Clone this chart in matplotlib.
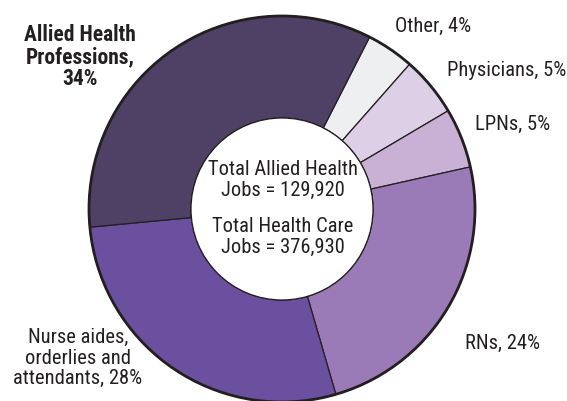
import matplotlib
matplotlib.use("Agg")
from matplotlib import pyplot as plt
from matplotlib.patches import Circle

# Data (clockwise from the top)
categories = ["Other", "Physicians", "LPNs", "RNs",
              "Nurse aides,\norderlies and\nattendants", "Allied Health\nProfessions"]
shares = [4, 5, 5, 24, 28, 34]
colors = ["#eeeff1", "#ddd0e6", "#c9b1d5", "#9a7bb8", "#6c50a0", "#4f4066"]
total_allied = 129920
total_care = 376930

plt.rcParams['font.family'] = ['Roboto Condensed', 'Liberation Sans Narrow', 'Roboto', 'DejaVu Sans']
ink = "#231f20"

fig = plt.figure(figsize=(5.67, 4.01), dpi=100)
ax = fig.add_axes([0, 0, 1, 1])

cx, cy, r = 282, 401 - 209, 193
ax.pie(shares, colors=colors, startangle=63, counterclock=False,
       center=(cx, cy), radius=r,
       wedgeprops=dict(width=r - 91, edgecolor=ink, linewidth=0.9))
ax.add_patch(Circle((cx, cy), r, fill=False, edgecolor=ink, linewidth=2, zorder=5))
ax.add_patch(Circle((cx, cy), 91, facecolor="white", edgecolor=ink, linewidth=0.9, zorder=4))

ax.set_xlim(0, 567)
ax.set_ylim(0, 401)
ax.set_aspect("auto")
ax.axis("off")

# Labels
fs = 14.8
ax.text(80, 401 - 57, f"{categories[5]},\n{shares[5]}%", ha="center", va="center",
        fontsize=15.5, fontweight="bold", color=ink, linespacing=1.02)
ax.text(395, 401 - 26, f"{categories[0]}, {shares[0]}%", ha="left", va="center",
        fontsize=fs, color=ink)
ax.text(566, 401 - 70, f"{categories[1]}, {shares[1]}%", ha="right", va="center",
        fontsize=fs, color=ink)
ax.text(475, 401 - 124, f"{categories[2]}, {shares[2]}%", ha="left", va="center",
        fontsize=fs, color=ink)
ax.text(465, 401 - 343, f"{categories[3]}, {shares[3]}%", ha="left", va="center",
        fontsize=fs, color=ink)
ax.text(78, 401 - 358, f"{categories[4]}, {shares[4]}%", ha="center", va="center",
        fontsize=fs, color=ink, linespacing=1.12)

ax.text(cx + 1, 401 - 180, f"Total Allied Health\nJobs = {total_allied:,}", ha="center",
        va="center", fontsize=fs, color=ink, linespacing=1.12, zorder=6)
ax.text(cx + 1, 401 - 237, f"Total Health Care\nJobs = {total_care:,}", ha="center",
        va="center", fontsize=fs, color=ink, linespacing=1.12, zorder=6)

fig.savefig("out.png", dpi=100)
